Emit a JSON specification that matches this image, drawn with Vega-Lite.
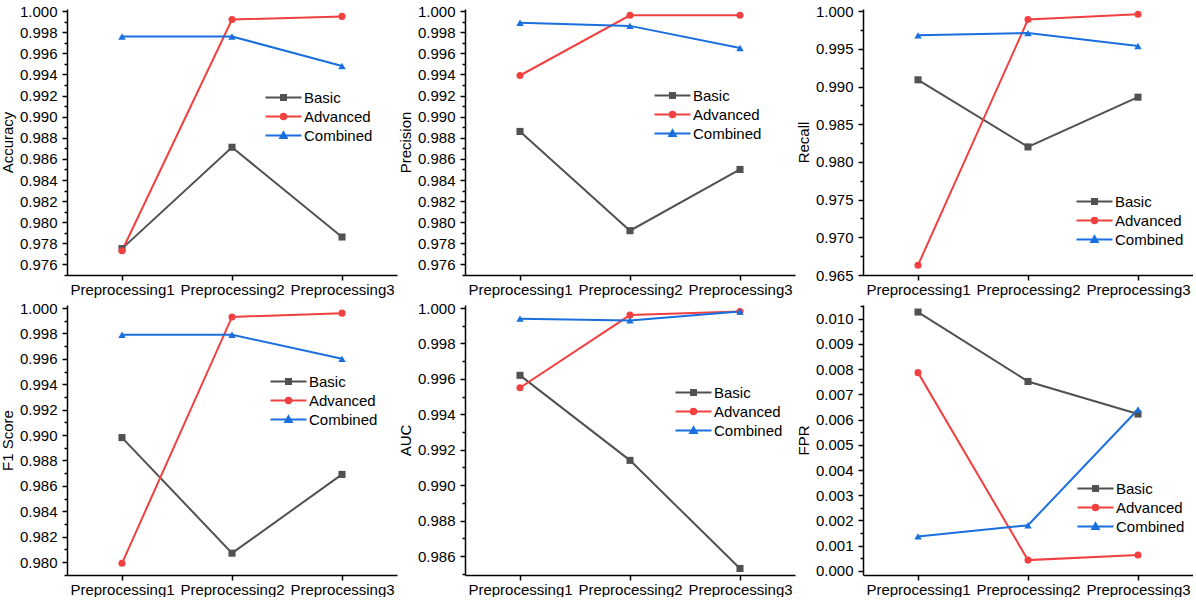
{
  "$schema": "https://vega.github.io/schema/vega-lite/v6.json",
  "padding": {"top": 4, "left": 0, "right": 0, "bottom": 0},
  "background": "white",
  "data": {"values": [
    {"metric": "Accuracy", "stage": "Preprocessing1", "method": "Basic", "value": 0.9775},
    {"metric": "Accuracy", "stage": "Preprocessing2", "method": "Basic", "value": 0.9871},
    {"metric": "Accuracy", "stage": "Preprocessing3", "method": "Basic", "value": 0.9786},
    {"metric": "Accuracy", "stage": "Preprocessing1", "method": "Advanced", "value": 0.9773},
    {"metric": "Accuracy", "stage": "Preprocessing2", "method": "Advanced", "value": 0.9992},
    {"metric": "Accuracy", "stage": "Preprocessing3", "method": "Advanced", "value": 0.9995},
    {"metric": "Accuracy", "stage": "Preprocessing1", "method": "Combined", "value": 0.9976},
    {"metric": "Accuracy", "stage": "Preprocessing2", "method": "Combined", "value": 0.9976},
    {"metric": "Accuracy", "stage": "Preprocessing3", "method": "Combined", "value": 0.9948},
    {"metric": "Precision", "stage": "Preprocessing1", "method": "Basic", "value": 0.9886},
    {"metric": "Precision", "stage": "Preprocessing2", "method": "Basic", "value": 0.9792},
    {"metric": "Precision", "stage": "Preprocessing3", "method": "Basic", "value": 0.9850},
    {"metric": "Precision", "stage": "Preprocessing1", "method": "Advanced", "value": 0.9939},
    {"metric": "Precision", "stage": "Preprocessing2", "method": "Advanced", "value": 0.9996},
    {"metric": "Precision", "stage": "Preprocessing3", "method": "Advanced", "value": 0.9996},
    {"metric": "Precision", "stage": "Preprocessing1", "method": "Combined", "value": 0.9989},
    {"metric": "Precision", "stage": "Preprocessing2", "method": "Combined", "value": 0.9986},
    {"metric": "Precision", "stage": "Preprocessing3", "method": "Combined", "value": 0.9965},
    {"metric": "Recall", "stage": "Preprocessing1", "method": "Basic", "value": 0.9909},
    {"metric": "Recall", "stage": "Preprocessing2", "method": "Basic", "value": 0.9820},
    {"metric": "Recall", "stage": "Preprocessing3", "method": "Basic", "value": 0.9886},
    {"metric": "Recall", "stage": "Preprocessing1", "method": "Advanced", "value": 0.9663},
    {"metric": "Recall", "stage": "Preprocessing2", "method": "Advanced", "value": 0.9989},
    {"metric": "Recall", "stage": "Preprocessing3", "method": "Advanced", "value": 0.9996},
    {"metric": "Recall", "stage": "Preprocessing1", "method": "Combined", "value": 0.9968},
    {"metric": "Recall", "stage": "Preprocessing2", "method": "Combined", "value": 0.9971},
    {"metric": "Recall", "stage": "Preprocessing3", "method": "Combined", "value": 0.9954},
    {"metric": "F1 Score", "stage": "Preprocessing1", "method": "Basic", "value": 0.9898},
    {"metric": "F1 Score", "stage": "Preprocessing2", "method": "Basic", "value": 0.9807},
    {"metric": "F1 Score", "stage": "Preprocessing3", "method": "Basic", "value": 0.9869},
    {"metric": "F1 Score", "stage": "Preprocessing1", "method": "Advanced", "value": 0.9799},
    {"metric": "F1 Score", "stage": "Preprocessing2", "method": "Advanced", "value": 0.9993},
    {"metric": "F1 Score", "stage": "Preprocessing3", "method": "Advanced", "value": 0.9996},
    {"metric": "F1 Score", "stage": "Preprocessing1", "method": "Combined", "value": 0.9979},
    {"metric": "F1 Score", "stage": "Preprocessing2", "method": "Combined", "value": 0.9979},
    {"metric": "F1 Score", "stage": "Preprocessing3", "method": "Combined", "value": 0.9960},
    {"metric": "AUC", "stage": "Preprocessing1", "method": "Basic", "value": 0.9962},
    {"metric": "AUC", "stage": "Preprocessing2", "method": "Basic", "value": 0.9914},
    {"metric": "AUC", "stage": "Preprocessing3", "method": "Basic", "value": 0.9853},
    {"metric": "AUC", "stage": "Preprocessing1", "method": "Advanced", "value": 0.9955},
    {"metric": "AUC", "stage": "Preprocessing2", "method": "Advanced", "value": 0.9996},
    {"metric": "AUC", "stage": "Preprocessing3", "method": "Advanced", "value": 0.9998},
    {"metric": "AUC", "stage": "Preprocessing1", "method": "Combined", "value": 0.9994},
    {"metric": "AUC", "stage": "Preprocessing2", "method": "Combined", "value": 0.9993},
    {"metric": "AUC", "stage": "Preprocessing3", "method": "Combined", "value": 0.9998},
    {"metric": "FPR", "stage": "Preprocessing1", "method": "Basic", "value": 0.01026},
    {"metric": "FPR", "stage": "Preprocessing2", "method": "Basic", "value": 0.00751},
    {"metric": "FPR", "stage": "Preprocessing3", "method": "Basic", "value": 0.00622},
    {"metric": "FPR", "stage": "Preprocessing1", "method": "Advanced", "value": 0.00786},
    {"metric": "FPR", "stage": "Preprocessing2", "method": "Advanced", "value": 0.00043},
    {"metric": "FPR", "stage": "Preprocessing3", "method": "Advanced", "value": 0.00063},
    {"metric": "FPR", "stage": "Preprocessing1", "method": "Combined", "value": 0.00137},
    {"metric": "FPR", "stage": "Preprocessing2", "method": "Combined", "value": 0.00181},
    {"metric": "FPR", "stage": "Preprocessing3", "method": "Combined", "value": 0.00640}
  ]},
  "columns": 3,
  "bounds": "flush",
  "spacing": {"row": 30, "column": 68},
  "resolve": {
    "scale": {"fill": "independent", "stroke": "independent", "shape": "independent", "x": "independent", "y": "independent"},
    "legend": {"fill": "independent", "stroke": "independent", "shape": "independent"}
  },
  "concat": [
    {
      "width": 330, "height": 266,
      "transform": [{"filter": "datum.metric === 'Accuracy'"}],
      "encoding": {
        "x": {"field": "stage", "type": "ordinal", "scale": {"type": "point", "padding": 0.5}, "axis": {"title": null, "labelAngle": 0}},
        "y": {"field": "value", "type": "quantitative", "scale": {"domain": [0.975, 1.0002], "zero": false, "nice": false},
          "axis": {"title": "Accuracy", "values": [0.975,0.976,0.977,0.978,0.979,0.98,0.981,0.982,0.983,0.984,0.985,0.986,0.987,0.988,0.989,0.99,0.991,0.992,0.993,0.994,0.995,0.996,0.997,0.998,0.999,1],
            "labelExpr": "round(datum.value*1000) % 2 === 0 ? format(datum.value, '.3f') : ''",
            "tickSize": {"condition": {"test": "round(datum.value*1000) % 2 === 0", "value": 5}, "value": 3}}}
      },
      "layer": [
        {"mark": {"type": "point", "filled": true, "opacity": 0, "size": 50}, "encoding": {
          "fill": {"field": "method", "type": "nominal", "scale": {"domain": ["Basic", "Advanced", "Combined"], "range": ["#515151", "#F14040", "#1A6FDF"]}, "legend": {"orient": "none", "legendX": 209, "legendY": 81}},
          "stroke": {"field": "method", "type": "nominal", "scale": {"domain": ["Basic", "Advanced", "Combined"], "range": ["#515151", "#F14040", "#1A6FDF"]}, "legend": {"orient": "none", "legendX": 209, "legendY": 81}},
          "shape": {"field": "method", "type": "nominal", "scale": {"domain": ["Basic", "Advanced", "Combined"], "range": ["M-3.6,0H3.6M-0.5,-0.5H0.5V0.5H-0.5Z", "M-3.6,0H3.6M0.55,0A0.55,0.55,0,1,1,-0.55,0A0.55,0.55,0,1,1,0.55,0Z", "M-3.6,0H3.6M0,-0.65L0.65,0.5H-0.65Z"]}, "legend": {"orient": "none", "legendX": 209, "legendY": 81}}}},
        {"mark": {"type": "line", "strokeWidth": 2}, "encoding": {"stroke": {"field": "method", "type": "nominal", "scale": {"domain": ["Basic", "Advanced", "Combined"], "range": ["#515151", "#F14040", "#1A6FDF"]}}}},
        {"transform": [{"filter": "datum.method === 'Basic'"}], "mark": {"type": "point", "shape": "square", "filled": true, "opacity": 1, "size": 50, "color": "#515151"}},
        {"transform": [{"filter": "datum.method === 'Advanced'"}], "mark": {"type": "point", "shape": "circle", "filled": true, "opacity": 1, "size": 50, "color": "#F14040"}},
        {"transform": [{"filter": "datum.method === 'Combined'"}], "mark": {"type": "point", "shape": "triangle-up", "filled": true, "opacity": 1, "size": 55, "color": "#1A6FDF"}}
      ]
    },
    {
      "width": 330, "height": 266,
      "transform": [{"filter": "datum.metric === 'Precision'"}],
      "encoding": {
        "x": {"field": "stage", "type": "ordinal", "scale": {"type": "point", "padding": 0.5}, "axis": {"title": null, "labelAngle": 0}},
        "y": {"field": "value", "type": "quantitative", "scale": {"domain": [0.975, 1.0002], "zero": false, "nice": false},
          "axis": {"title": "Precision", "values": [0.975,0.976,0.977,0.978,0.979,0.98,0.981,0.982,0.983,0.984,0.985,0.986,0.987,0.988,0.989,0.99,0.991,0.992,0.993,0.994,0.995,0.996,0.997,0.998,0.999,1],
            "labelExpr": "round(datum.value*1000) % 2 === 0 ? format(datum.value, '.3f') : ''",
            "tickSize": {"condition": {"test": "round(datum.value*1000) % 2 === 0", "value": 5}, "value": 3}}}
      },
      "layer": [
        {"mark": {"type": "point", "filled": true, "opacity": 0, "size": 50}, "encoding": {
          "fill": {"field": "method", "type": "nominal", "scale": {"domain": ["Basic", "Advanced", "Combined"], "range": ["#515151", "#F14040", "#1A6FDF"]}, "legend": {"orient": "none", "legendX": 200, "legendY": 79}},
          "stroke": {"field": "method", "type": "nominal", "scale": {"domain": ["Basic", "Advanced", "Combined"], "range": ["#515151", "#F14040", "#1A6FDF"]}, "legend": {"orient": "none", "legendX": 200, "legendY": 79}},
          "shape": {"field": "method", "type": "nominal", "scale": {"domain": ["Basic", "Advanced", "Combined"], "range": ["M-3.6,0H3.6M-0.5,-0.5H0.5V0.5H-0.5Z", "M-3.6,0H3.6M0.55,0A0.55,0.55,0,1,1,-0.55,0A0.55,0.55,0,1,1,0.55,0Z", "M-3.6,0H3.6M0,-0.65L0.65,0.5H-0.65Z"]}, "legend": {"orient": "none", "legendX": 200, "legendY": 79}}}},
        {"mark": {"type": "line", "strokeWidth": 2}, "encoding": {"stroke": {"field": "method", "type": "nominal", "scale": {"domain": ["Basic", "Advanced", "Combined"], "range": ["#515151", "#F14040", "#1A6FDF"]}}}},
        {"transform": [{"filter": "datum.method === 'Basic'"}], "mark": {"type": "point", "shape": "square", "filled": true, "opacity": 1, "size": 50, "color": "#515151"}},
        {"transform": [{"filter": "datum.method === 'Advanced'"}], "mark": {"type": "point", "shape": "circle", "filled": true, "opacity": 1, "size": 50, "color": "#F14040"}},
        {"transform": [{"filter": "datum.method === 'Combined'"}], "mark": {"type": "point", "shape": "triangle-up", "filled": true, "opacity": 1, "size": 55, "color": "#1A6FDF"}}
      ]
    },
    {
      "width": 330, "height": 266,
      "transform": [{"filter": "datum.metric === 'Recall'"}],
      "encoding": {
        "x": {"field": "stage", "type": "ordinal", "scale": {"type": "point", "padding": 0.5}, "axis": {"title": null, "labelAngle": 0}},
        "y": {"field": "value", "type": "quantitative", "scale": {"domain": [0.965, 1.0003], "zero": false, "nice": false},
          "axis": {"title": "Recall", "values": [0.965,0.9675,0.97,0.9725,0.975,0.9775,0.98,0.9825,0.985,0.9875,0.99,0.9925,0.995,0.9975,1],
            "labelExpr": "round(datum.value*10000) % 50 === 0 ? format(datum.value, '.3f') : ''",
            "tickSize": {"condition": {"test": "round(datum.value*10000) % 50 === 0", "value": 5}, "value": 3}}}
      },
      "layer": [
        {"mark": {"type": "point", "filled": true, "opacity": 0, "size": 50}, "encoding": {
          "fill": {"field": "method", "type": "nominal", "scale": {"domain": ["Basic", "Advanced", "Combined"], "range": ["#515151", "#F14040", "#1A6FDF"]}, "legend": {"orient": "none", "legendX": 224, "legendY": 185}},
          "stroke": {"field": "method", "type": "nominal", "scale": {"domain": ["Basic", "Advanced", "Combined"], "range": ["#515151", "#F14040", "#1A6FDF"]}, "legend": {"orient": "none", "legendX": 224, "legendY": 185}},
          "shape": {"field": "method", "type": "nominal", "scale": {"domain": ["Basic", "Advanced", "Combined"], "range": ["M-3.6,0H3.6M-0.5,-0.5H0.5V0.5H-0.5Z", "M-3.6,0H3.6M0.55,0A0.55,0.55,0,1,1,-0.55,0A0.55,0.55,0,1,1,0.55,0Z", "M-3.6,0H3.6M0,-0.65L0.65,0.5H-0.65Z"]}, "legend": {"orient": "none", "legendX": 224, "legendY": 185}}}},
        {"mark": {"type": "line", "strokeWidth": 2}, "encoding": {"stroke": {"field": "method", "type": "nominal", "scale": {"domain": ["Basic", "Advanced", "Combined"], "range": ["#515151", "#F14040", "#1A6FDF"]}}}},
        {"transform": [{"filter": "datum.method === 'Basic'"}], "mark": {"type": "point", "shape": "square", "filled": true, "opacity": 1, "size": 50, "color": "#515151"}},
        {"transform": [{"filter": "datum.method === 'Advanced'"}], "mark": {"type": "point", "shape": "circle", "filled": true, "opacity": 1, "size": 50, "color": "#F14040"}},
        {"transform": [{"filter": "datum.method === 'Combined'"}], "mark": {"type": "point", "shape": "triangle-up", "filled": true, "opacity": 1, "size": 55, "color": "#1A6FDF"}}
      ]
    },
    {
      "width": 330, "height": 270,
      "transform": [{"filter": "datum.metric === 'F1 Score'"}],
      "encoding": {
        "x": {"field": "stage", "type": "ordinal", "scale": {"type": "point", "padding": 0.5}, "axis": {"title": null, "labelAngle": 0}},
        "y": {"field": "value", "type": "quantitative", "scale": {"domain": [0.97898, 1.00024], "zero": false, "nice": false},
          "axis": {"title": "F1 Score", "values": [0.979,0.98,0.981,0.982,0.983,0.984,0.985,0.986,0.987,0.988,0.989,0.99,0.991,0.992,0.993,0.994,0.995,0.996,0.997,0.998,0.999,1],
            "labelExpr": "round(datum.value*1000) % 2 === 0 ? format(datum.value, '.3f') : ''",
            "tickSize": {"condition": {"test": "round(datum.value*1000) % 2 === 0", "value": 5}, "value": 3}}}
      },
      "layer": [
        {"mark": {"type": "point", "filled": true, "opacity": 0, "size": 50}, "encoding": {
          "fill": {"field": "method", "type": "nominal", "scale": {"domain": ["Basic", "Advanced", "Combined"], "range": ["#515151", "#F14040", "#1A6FDF"]}, "legend": {"orient": "none", "legendX": 214, "legendY": 69}},
          "stroke": {"field": "method", "type": "nominal", "scale": {"domain": ["Basic", "Advanced", "Combined"], "range": ["#515151", "#F14040", "#1A6FDF"]}, "legend": {"orient": "none", "legendX": 214, "legendY": 69}},
          "shape": {"field": "method", "type": "nominal", "scale": {"domain": ["Basic", "Advanced", "Combined"], "range": ["M-3.6,0H3.6M-0.5,-0.5H0.5V0.5H-0.5Z", "M-3.6,0H3.6M0.55,0A0.55,0.55,0,1,1,-0.55,0A0.55,0.55,0,1,1,0.55,0Z", "M-3.6,0H3.6M0,-0.65L0.65,0.5H-0.65Z"]}, "legend": {"orient": "none", "legendX": 214, "legendY": 69}}}},
        {"mark": {"type": "line", "strokeWidth": 2}, "encoding": {"stroke": {"field": "method", "type": "nominal", "scale": {"domain": ["Basic", "Advanced", "Combined"], "range": ["#515151", "#F14040", "#1A6FDF"]}}}},
        {"transform": [{"filter": "datum.method === 'Basic'"}], "mark": {"type": "point", "shape": "square", "filled": true, "opacity": 1, "size": 50, "color": "#515151"}},
        {"transform": [{"filter": "datum.method === 'Advanced'"}], "mark": {"type": "point", "shape": "circle", "filled": true, "opacity": 1, "size": 50, "color": "#F14040"}},
        {"transform": [{"filter": "datum.method === 'Combined'"}], "mark": {"type": "point", "shape": "triangle-up", "filled": true, "opacity": 1, "size": 55, "color": "#1A6FDF"}}
      ]
    },
    {
      "width": 330, "height": 270,
      "transform": [{"filter": "datum.metric === 'AUC'"}],
      "encoding": {
        "x": {"field": "stage", "type": "ordinal", "scale": {"type": "point", "padding": 0.5}, "axis": {"title": null, "labelAngle": 0}},
        "y": {"field": "value", "type": "quantitative", "scale": {"domain": [0.98493, 1.00017], "zero": false, "nice": false},
          "axis": {"title": "AUC", "values": [0.985,0.986,0.987,0.988,0.989,0.99,0.991,0.992,0.993,0.994,0.995,0.996,0.997,0.998,0.999,1],
            "labelExpr": "round(datum.value*1000) % 2 === 0 ? format(datum.value, '.3f') : ''",
            "tickSize": {"condition": {"test": "round(datum.value*1000) % 2 === 0", "value": 5}, "value": 3}}}
      },
      "layer": [
        {"mark": {"type": "point", "filled": true, "opacity": 0, "size": 50}, "encoding": {
          "fill": {"field": "method", "type": "nominal", "scale": {"domain": ["Basic", "Advanced", "Combined"], "range": ["#515151", "#F14040", "#1A6FDF"]}, "legend": {"orient": "none", "legendX": 221, "legendY": 80}},
          "stroke": {"field": "method", "type": "nominal", "scale": {"domain": ["Basic", "Advanced", "Combined"], "range": ["#515151", "#F14040", "#1A6FDF"]}, "legend": {"orient": "none", "legendX": 221, "legendY": 80}},
          "shape": {"field": "method", "type": "nominal", "scale": {"domain": ["Basic", "Advanced", "Combined"], "range": ["M-3.6,0H3.6M-0.5,-0.5H0.5V0.5H-0.5Z", "M-3.6,0H3.6M0.55,0A0.55,0.55,0,1,1,-0.55,0A0.55,0.55,0,1,1,0.55,0Z", "M-3.6,0H3.6M0,-0.65L0.65,0.5H-0.65Z"]}, "legend": {"orient": "none", "legendX": 221, "legendY": 80}}}},
        {"mark": {"type": "line", "strokeWidth": 2}, "encoding": {"stroke": {"field": "method", "type": "nominal", "scale": {"domain": ["Basic", "Advanced", "Combined"], "range": ["#515151", "#F14040", "#1A6FDF"]}}}},
        {"transform": [{"filter": "datum.method === 'Basic'"}], "mark": {"type": "point", "shape": "square", "filled": true, "opacity": 1, "size": 50, "color": "#515151"}},
        {"transform": [{"filter": "datum.method === 'Advanced'"}], "mark": {"type": "point", "shape": "circle", "filled": true, "opacity": 1, "size": 50, "color": "#F14040"}},
        {"transform": [{"filter": "datum.method === 'Combined'"}], "mark": {"type": "point", "shape": "triangle-up", "filled": true, "opacity": 1, "size": 55, "color": "#1A6FDF"}}
      ]
    },
    {
      "width": 330, "height": 270,
      "transform": [{"filter": "datum.metric === 'FPR'"}],
      "encoding": {
        "x": {"field": "stage", "type": "ordinal", "scale": {"type": "point", "padding": 0.5}, "axis": {"title": null, "labelAngle": 0}},
        "y": {"field": "value", "type": "quantitative", "scale": {"domain": [-0.00016, 0.01054], "zero": false, "nice": false},
          "axis": {"title": "FPR", "values": [0,0.0005,0.001,0.0015,0.002,0.0025,0.003,0.0035,0.004,0.0045,0.005,0.0055,0.006,0.0065,0.007,0.0075,0.008,0.0085,0.009,0.0095,0.01,0.0105],
            "labelExpr": "round(datum.value*10000) % 10 === 0 ? format(datum.value, '.3f') : ''",
            "tickSize": {"condition": {"test": "round(datum.value*10000) % 10 === 0", "value": 5}, "value": 3}}}
      },
      "layer": [
        {"mark": {"type": "point", "filled": true, "opacity": 0, "size": 50}, "encoding": {
          "fill": {"field": "method", "type": "nominal", "scale": {"domain": ["Basic", "Advanced", "Combined"], "range": ["#515151", "#F14040", "#1A6FDF"]}, "legend": {"orient": "none", "legendX": 225, "legendY": 176}},
          "stroke": {"field": "method", "type": "nominal", "scale": {"domain": ["Basic", "Advanced", "Combined"], "range": ["#515151", "#F14040", "#1A6FDF"]}, "legend": {"orient": "none", "legendX": 225, "legendY": 176}},
          "shape": {"field": "method", "type": "nominal", "scale": {"domain": ["Basic", "Advanced", "Combined"], "range": ["M-3.6,0H3.6M-0.5,-0.5H0.5V0.5H-0.5Z", "M-3.6,0H3.6M0.55,0A0.55,0.55,0,1,1,-0.55,0A0.55,0.55,0,1,1,0.55,0Z", "M-3.6,0H3.6M0,-0.65L0.65,0.5H-0.65Z"]}, "legend": {"orient": "none", "legendX": 225, "legendY": 176}}}},
        {"mark": {"type": "line", "strokeWidth": 2}, "encoding": {"stroke": {"field": "method", "type": "nominal", "scale": {"domain": ["Basic", "Advanced", "Combined"], "range": ["#515151", "#F14040", "#1A6FDF"]}}}},
        {"transform": [{"filter": "datum.method === 'Basic'"}], "mark": {"type": "point", "shape": "square", "filled": true, "opacity": 1, "size": 50, "color": "#515151"}},
        {"transform": [{"filter": "datum.method === 'Advanced'"}], "mark": {"type": "point", "shape": "circle", "filled": true, "opacity": 1, "size": 50, "color": "#F14040"}},
        {"transform": [{"filter": "datum.method === 'Combined'"}], "mark": {"type": "point", "shape": "triangle-up", "filled": true, "opacity": 1, "size": 55, "color": "#1A6FDF"}}
      ]
    }
  ],
  "config": {
    "view": {"stroke": null},
    "font": "Liberation Sans",
    "axis": {
      "labelFont": "Liberation Sans", "labelFontSize": 15, "labelColor": "#000000",
      "titleFont": "Liberation Sans", "titleFontSize": 15, "titleFontWeight": "normal", "titleColor": "#000000",
      "domainColor": "#000000", "domainWidth": 1.5, "tickColor": "#000000", "tickWidth": 1.5, "grid": false
    },
    "axisX": {"tickSize": 5, "labelPadding": 2},
    "axisY": {"labelPadding": 5, "titlePadding": 4},
    "legend": {
      "title": null, "labelFont": "Liberation Sans", "labelFontSize": 15, "labelColor": "#000000",
      "padding": 0, "rowPadding": 3, "symbolSize": 100, "symbolStrokeWidth": 2, "symbolOpacity": 1, "labelOffset": 13
    }
  }
}
